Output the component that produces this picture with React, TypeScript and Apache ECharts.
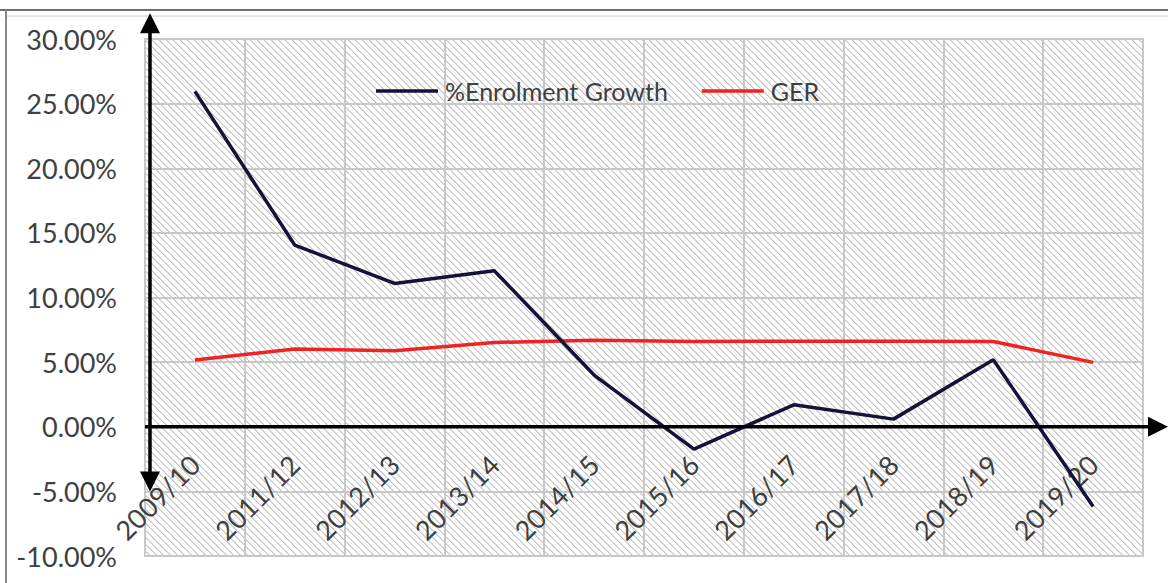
import React, { useEffect, useRef } from "react";
import * as echarts from "echarts";

const categories = ["2009/10", "2011/12", "2012/13", "2013/14", "2014/15", "2015/16", "2016/17", "2017/18", "2018/19", "2019/20"];
const enrolmentGrowth = [25.95, 14.06, 11.09, 12.07, 4.0, -1.73, 1.7, 0.59, 5.19, -6.17];
const ger = [5.16, 6.01, 5.88, 6.52, 6.7, 6.6, 6.62, 6.62, 6.6, 4.98];
const seriesNames = ["%Enrolment Growth", "GER"];
const yMin = -10;
const yMax = 30;
const yInterval = 5;

function makeHatch(size: number): string {
  const c = document.createElement("canvas");
  c.width = size;
  c.height = size;
  const ctx = c.getContext("2d")!;
  ctx.fillStyle = "#ffffff";
  ctx.fillRect(0, 0, size, size);
  const img = ctx.getImageData(0, 0, size, size);
  const set = (x: number, y: number, v: number) => {
    const xx = ((x % size) + size) % size;
    const yy = ((y % size) + size) % size;
    const k = (yy * size + xx) * 4;
    img.data[k] = v;
    img.data[k + 1] = v;
    img.data[k + 2] = v;
    img.data[k + 3] = 255;
  };
  for (let i = 0; i < size; i++) {
    set(i, i, 195);
    set(i + 1, i, 225);
  }
  ctx.putImageData(img, 0, 0);
  return c.toDataURL();
}

export default function App() {
  const ref = useRef<HTMLDivElement>(null);
  useEffect(() => {
    if (!ref.current) return;
    const chart = echarts.init(ref.current, undefined, { renderer: "svg" });
    const font = "Lato, 'Open Sans', sans-serif";
    const textColor = "#404040";
    const gridLeft = 145;
    const gridTop = 39;
    const gridRight = 25;
    const gridBottom = 27;
    const hatchSize = 7;
    const baseOption: any = {
      animation: false,
      backgroundColor: "#ffffff",
      textStyle: { fontFamily: font },
      grid: {
        left: gridLeft,
        top: gridTop,
        right: gridRight,
        bottom: gridBottom,
        show: true,
        borderColor: "#c8c8c8",
        borderWidth: 2,
        backgroundColor: {
          image: makeHatch(hatchSize),
          repeat: "repeat",
          imageWidth: hatchSize,
          imageHeight: hatchSize,
        },
        containLabel: false,
        outerBoundsMode: "none",
      },
      legend: {
        data: seriesNames,
        left: 371,
        top: 72,
        icon: "rect",
        itemWidth: 62,
        itemHeight: 3.5,
        itemGap: 34,
        textStyle: { fontFamily: font, fontSize: 25, color: textColor, lineHeight: 28, padding: [0, 0, 0, 2] },
      },
      xAxis: {
        type: "category",
        data: categories,
        boundaryGap: true,
        position: "bottom",
        offset: 0,
        axisLine: { show: false, onZero: false },
        axisTick: { show: false },
        splitLine: { show: true, lineStyle: { color: "#c8c8c8", width: 2 } },
        axisLabel: {
          rotate: 45,
          margin: 33,
          fontSize: 27,
          color: textColor,
          fontFamily: font,
          interval: 0,
        },
      },
      yAxis: {
        type: "value",
        min: yMin,
        max: yMax,
        interval: yInterval,
        axisLine: { show: false },
        axisTick: { show: false },
        splitLine: { show: true, lineStyle: { color: "#c8c8c8", width: 2 } },
        axisLabel: {
          margin: 28,
          fontSize: 27,
          color: textColor,
          fontFamily: font,
          formatter: (v: number) => `${v.toFixed(2)}%`,
        },
      },
      series: [
        {
          name: seriesNames[0],
          type: "line",
          data: enrolmentGrowth,
          symbol: "none",
          lineStyle: { color: "#12123a", width: 3.5 },
          itemStyle: { color: "#12123a" },
          z: 3,
        },
        {
          name: seriesNames[1],
          type: "line",
          data: ger,
          symbol: "none",
          lineStyle: { color: "#ee2424", width: 3.5 },
          itemStyle: { color: "#ee2424" },
          z: 2,
        },
      ],
    };
    chart.setOption(baseOption);

    const y0 = chart.convertToPixel({ yAxisIndex: 0 }, 0) as number;
    const yMinPx = chart.convertToPixel({ yAxisIndex: 0 }, yMin) as number;
    const yTop = chart.convertToPixel({ yAxisIndex: 0 }, 32) as number;
    const yBot = chart.convertToPixel({ yAxisIndex: 0 }, -5) as number;
    const W = chart.getWidth();
    const H = chart.getHeight();
    const vx = gridLeft + 5;
    const head = 20;
    const half = 10;
    chart.setOption({
      xAxis: { offset: -(yMinPx - y0) },
      graphic: [
        { type: "line", shape: { x1: 0, y1: 10, x2: W, y2: 10 }, style: { stroke: "#6e6e6e", lineWidth: 2 }, z: 100 },
        { type: "line", shape: { x1: 6, y1: 16, x2: W, y2: 16 }, style: { stroke: "#dcdcdc", lineWidth: 1.5 }, z: 100 },
        { type: "line", shape: { x1: 6, y1: 10, x2: 6, y2: H }, style: { stroke: "#8a8a8a", lineWidth: 2 }, z: 100 },
        { type: "line", shape: { x1: vx, y1: yTop + head - 2, x2: vx, y2: yBot - head + 2 }, style: { stroke: "#000", lineWidth: 3.5 }, z: 100 },
        { type: "polygon", shape: { points: [[vx, yTop], [vx - half, yTop + head], [vx + half, yTop + head]] }, style: { fill: "#000" }, z: 100 },
        { type: "polygon", shape: { points: [[vx, yBot], [vx - half, yBot - head], [vx + half, yBot - head]] }, style: { fill: "#000" }, z: 100 },
        { type: "line", shape: { x1: gridLeft, y1: y0, x2: W - head + 2, y2: y0 }, style: { stroke: "#000", lineWidth: 3.5 }, z: 100 },
        { type: "polygon", shape: { points: [[W, y0], [W - head, y0 - half], [W - head, y0 + half]] }, style: { fill: "#000" }, z: 100 },
      ],
    });

    return () => chart.dispose();
  }, []);
  return <div ref={ref} style={{ position: "fixed", left: 0, top: 0, width: 1168, height: 583 }} />;
}
